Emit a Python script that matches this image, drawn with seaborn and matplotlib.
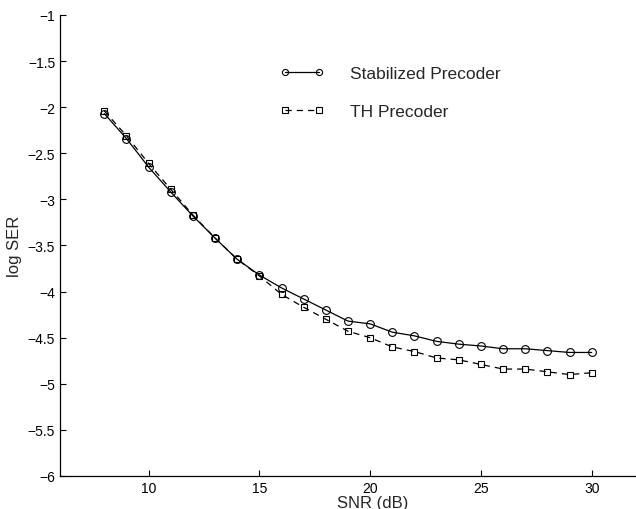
"""
plot.py
Symbol error rate vs SNR for the stabilized and Tomlinson-Harashima precoders.
"""

import pandas as pd
import matplotlib
matplotlib.use("Agg")
import matplotlib.pyplot as plt
import seaborn as sns

snr_db = list(range(8, 31))

stabilized = [-2.07, -2.34, -2.65, -2.92, -3.18, -3.42, -3.65, -3.82, -3.96, -4.08,
              -4.20, -4.32, -4.35, -4.44, -4.48, -4.54, -4.57, -4.59, -4.62, -4.62,
              -4.64, -4.66, -4.66]
th_precoder = [-2.04, -2.31, -2.61, -2.89, -3.17, -3.42, -3.65, -3.83, -4.03, -4.17,
               -4.30, -4.43, -4.50, -4.60, -4.65, -4.72, -4.74, -4.79, -4.84, -4.84,
               -4.87, -4.90, -4.88]

series_names = ["Stabilized Precoder", "TH Precoder"]
y_ticks = [-1, -1.5, -2, -2.5, -3, -3.5, -4, -4.5, -5, -5.5, -6]
x_ticks = [10, 15, 20, 25, 30]


def build_frame():
    df = pd.concat([
        pd.DataFrame({"snr": snr_db, "log_ser": stabilized, "scheme": series_names[0]}),
        pd.DataFrame({"snr": snr_db, "log_ser": th_precoder, "scheme": series_names[1]}),
    ])
    return df


def main():
    sns.set_style("ticks")
    plt.rcParams["font.family"] = ["Liberation Sans", "DejaVu Sans"]
    plt.rcParams["xtick.direction"] = "in"
    plt.rcParams["ytick.direction"] = "in"

    df = build_frame()

    fig = plt.figure(figsize=(6.36, 5.10), dpi=100)
    ax = fig.add_axes([60 / 636, 33 / 510, 576 / 636, 461 / 510])

    sns.lineplot(
        data=df, x="snr", y="log_ser", style="scheme", ax=ax,
        color="black", linewidth=0.9,
        markers={series_names[0]: "o", series_names[1]: "s"},
        dashes={series_names[0]: "", series_names[1]: (5, 4)},
        markersize=5.6, markerfacecolor="none", markeredgecolor="black",
        markeredgewidth=0.8,
    )
    # squares are a bit smaller than circles in the original
    ax.lines[1].set_markersize(4.6)

    ax.set_xlim(6, 32)
    ax.set_ylim(-6, -1)
    ax.set_xticks(x_ticks)
    ax.set_yticks(y_ticks)
    ax.set_yticklabels([f"{v:g}".replace("-", "\u2212") for v in y_ticks])
    ax.tick_params(labelsize=10, length=4.5, width=0.8, colors="black")
    for side in ("top", "right"):
        ax.spines[side].set_visible(False)
    for side in ("left", "bottom"):
        ax.spines[side].set_linewidth(0.9)
        ax.spines[side].set_color("black")

    ax.set_xlabel("SNR (dB)", fontsize=12, labelpad=0)
    ax.xaxis.set_label_coords(0.542, -0.042)
    ax.set_ylabel("log SER", fontsize=12, labelpad=4)

    handles, labels = ax.get_legend_handles_labels()
    for h in handles:
        h.set_color("black")
        h.set_markerfacecolor("none")
        h.set_markeredgecolor("black")
        h.set_markeredgewidth(0.8)
    handles[0].set_markersize(4.4)
    handles[1].set_markersize(4)
    ax.legend(
        handles, labels, loc="upper left", bbox_to_anchor=(0.366, 0.908),
        frameon=False, fontsize=12.5, numpoints=2, handlelength=2.6,
        handletextpad=1.45, labelspacing=1.32, borderpad=0,
    )

    fig.savefig("out.png", dpi=100)
    plt.close(fig)


if __name__ == "__main__":
    main()
